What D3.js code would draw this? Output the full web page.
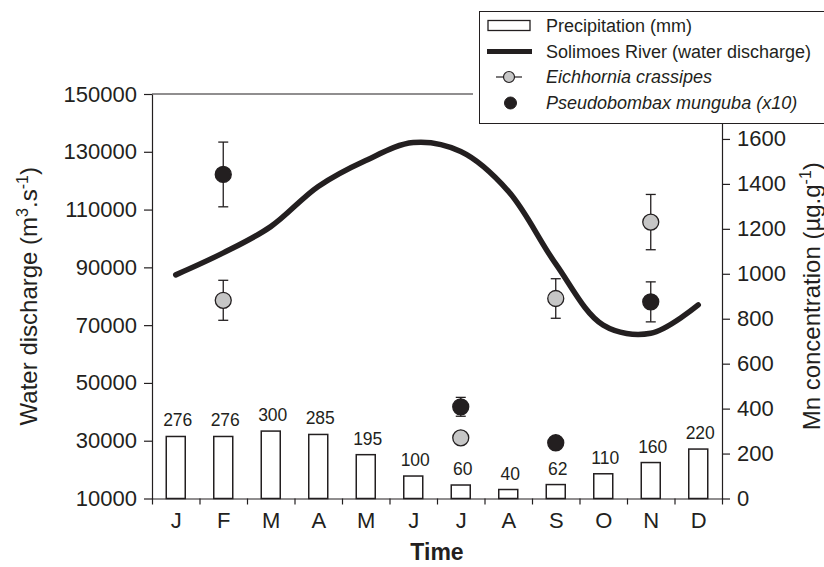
<!DOCTYPE html>
<html>
<head>
<meta charset="utf-8">
<script src="https://cdn.jsdelivr.net/npm/d3@7"></script>
<style>
  html, body { margin: 0; padding: 0; background: #fff; }
  svg { display: block; font-family: "Liberation Sans", Arial, sans-serif; }
</style>
</head>
<body>
<svg id="chart" width="824" height="567"></svg>
<script>
// ---- data ----
const months = ["J", "F", "M", "A", "M", "J", "J", "A", "S", "O", "N", "D"];
const precipitation = [276, 276, 300, 285, 195, 100, 60, 40, 62, 110, 160, 220];
const discharge = [87400, 95000, 104100, 118000, 127000, 133200, 130100, 116400, 91200, 70000, 67200, 77000];
const sampleMonths = [1, 6, 8, 10];
const eichhornia = [882, 270, 890, 1230];
const eichhorniaErr = [89, 0, 88, 123];
const pseudobombax = [1442, 408, 248, 875];
const pseudobombaxErr = [144, 42, 0, 89];
const leftTicks = [10000, 30000, 50000, 70000, 90000, 110000, 130000, 150000];
const rightTicks = [0, 200, 400, 600, 800, 1000, 1200, 1400, 1600];

// ---- layout ----
const ink = "#231f20";
const grey = "#c6c6c6";
const L = 152, R = 722, T = 94, B = 498.5;

const svg = d3.select("#chart");

const x = d3.scaleLinear().domain([0, 12]).range([L, R]);
const yL = d3.scaleLinear().domain([10000, 150000]).range([B, T]);
const yR = d3.scaleLinear().domain([0, 1800]).range([B, T]);
const step = x(1) - x(0);
const barW = step * 0.4;

// bars
const bars = svg.append("g");
bars.selectAll("rect").data(precipitation).join("rect")
  .attr("x", (d, i) => x(i + 0.5) - barW / 2)
  .attr("y", d => yR(d))
  .attr("width", barW)
  .attr("height", d => yR(0) - yR(d))
  .attr("fill", "#fff").attr("stroke", ink).attr("stroke-width", 1.5);
bars.selectAll("text").data(precipitation).join("text")
  .attr("x", (d, i) => x(i + 0.5) + 2)
  .attr("y", d => yR(d) - 10)
  .attr("text-anchor", "middle")
  .attr("font-size", 17.5)
  .attr("fill", ink)
  .text(d => d);

// discharge line
const line = d3.line()
  .x((d, i) => x(i + 0.5))
  .y(d => yL(d))
  .curve(d3.curveCatmullRom.alpha(0.5));
svg.append("path").datum(discharge)
  .attr("d", line).attr("fill", "none")
  .attr("stroke", ink).attr("stroke-width", 5.5).attr("stroke-linecap", "round");

// error bars + points
function drawSeries(vals, errs, fill) {
  const g = svg.append("g");
  vals.forEach((v, k) => {
    const cx = x(sampleMonths[k] + 0.5);
    const e = errs[k];
    if (e > 0) {
      g.append("line").attr("x1", cx).attr("x2", cx)
        .attr("y1", yR(v - e)).attr("y2", yR(v + e))
        .attr("stroke", ink).attr("stroke-width", 1.3);
      [v - e, v + e].forEach(w => {
        g.append("line").attr("x1", cx - 5).attr("x2", cx + 5)
          .attr("y1", yR(w)).attr("y2", yR(w))
          .attr("stroke", ink).attr("stroke-width", 1.3);
      });
    }
    g.append("circle").attr("cx", cx).attr("cy", yR(v)).attr("r", 8)
      .attr("fill", fill).attr("stroke", ink).attr("stroke-width", 1.3);
  });
}
drawSeries(eichhornia, eichhorniaErr, grey);
drawSeries(pseudobombax, pseudobombaxErr, ink);

// axes
function styleAxis(g, fs) {
  g.selectAll("path, line").attr("stroke", ink).attr("stroke-width", 1.2);
  g.selectAll("text").attr("fill", ink).attr("font-size", fs)
    .attr("font-family", '"Liberation Sans", Arial, sans-serif');
}
const gL = svg.append("g").attr("transform", `translate(${L},0)`)
  .call(d3.axisLeft(yL).tickValues(leftTicks).tickSize(8).tickPadding(7).tickSizeOuter(0).tickFormat(d3.format("d")));
styleAxis(gL, 22);
const gR = svg.append("g").attr("transform", `translate(${R},0)`)
  .call(d3.axisRight(yR).tickValues(rightTicks).tickSize(8).tickPadding(7).tickSizeOuter(0).tickFormat(d3.format("d")));
styleAxis(gR, 22);
const gB = svg.append("g").attr("transform", `translate(0,${B})`)
  .call(d3.axisBottom(x).tickValues(d3.range(0, 13)).tickSize(6).tickSizeOuter(0).tickFormat(""));
styleAxis(gB, 22);
const gBL = svg.append("g").attr("transform", `translate(0,${B})`)
  .call(d3.axisBottom(x).tickValues(d3.range(0.5, 12, 1)).tickSize(0).tickPadding(14)
    .tickFormat(d => months[Math.floor(d)]));
gBL.select("path").remove();
styleAxis(gBL, 22);
// top frame
svg.append("line").attr("x1", L).attr("x2", R).attr("y1", T).attr("y2", T)
  .attr("stroke", ink).attr("stroke-width", 1.2);

// axis titles
svg.append("text")
  .attr("transform", `translate(37,${(T + B) / 2}) rotate(-90)`)
  .attr("text-anchor", "middle").attr("font-size", 24).attr("fill", ink)
  .call(t => {
    t.append("tspan").text("Water discharge  (m");
    t.append("tspan").attr("font-size", 16).attr("dy", -9).text("3");
    t.append("tspan").attr("dy", 9).text(".s");
    t.append("tspan").attr("font-size", 16).attr("dy", -9).text("-1");
    t.append("tspan").attr("dy", 9).text(")");
  });
svg.append("text")
  .attr("transform", `translate(820,${(T + B) / 2}) rotate(-90)`)
  .attr("text-anchor", "middle").attr("font-size", 24).attr("fill", ink)
  .call(t => {
    t.append("tspan").text("Mn concentration (µg.g");
    t.append("tspan").attr("font-size", 16).attr("dy", -9).text("-1");
    t.append("tspan").attr("dy", 9).text(")");
  });
svg.append("text")
  .attr("x", (L + R) / 2).attr("y", 560)
  .attr("text-anchor", "middle").attr("font-size", 23).attr("font-weight", "bold")
  .attr("fill", ink).text("Time");

// legend
const lg = svg.append("g");
lg.append("rect").attr("x", 473).attr("y", 0).attr("width", 360).attr("height", 123.5).attr("fill", "#fff");
lg.append("rect").attr("x", 479.5).attr("y", 11.5).attr("width", 360).attr("height", 112)
  .attr("fill", "#fff").attr("stroke", ink).attr("stroke-width", 1);
const legendItems = [
  { label: "Precipitation (mm)", italic: false },
  { label: "Solimoes River (water discharge)", italic: false },
  { label: "Eichhornia crassipes", italic: true },
  { label: "Pseudobombax munguba (x10)", italic: true }
];
const rowY = [25.5, 51.5, 77, 103];
legendItems.forEach((it, k) => {
  lg.append("text").attr("x", 546).attr("y", rowY[k]).attr("dy", "0.35em")
    .attr("font-size", 18).attr("font-style", it.italic ? "italic" : "normal")
    .attr("fill", ink).text(it.label);
});
lg.append("rect").attr("x", 488).attr("y", rowY[0] - 5).attr("width", 42).attr("height", 10)
  .attr("fill", "#fff").attr("stroke", ink).attr("stroke-width", 1.3);
lg.append("line").attr("x1", 487).attr("x2", 532).attr("y1", rowY[1]).attr("y2", rowY[1])
  .attr("stroke", ink).attr("stroke-width", 5);
lg.append("line").attr("x1", 496).attr("x2", 522).attr("y1", rowY[2]).attr("y2", rowY[2])
  .attr("stroke", ink).attr("stroke-width", 1.2);
lg.append("circle").attr("cx", 509).attr("cy", rowY[2]).attr("r", 5.5)
  .attr("fill", grey).attr("stroke", ink).attr("stroke-width", 1.2);
lg.append("circle").attr("cx", 510.5).attr("cy", rowY[3]).attr("r", 6)
  .attr("fill", ink).attr("stroke", ink).attr("stroke-width", 1);
</script>
</body>
</html>
